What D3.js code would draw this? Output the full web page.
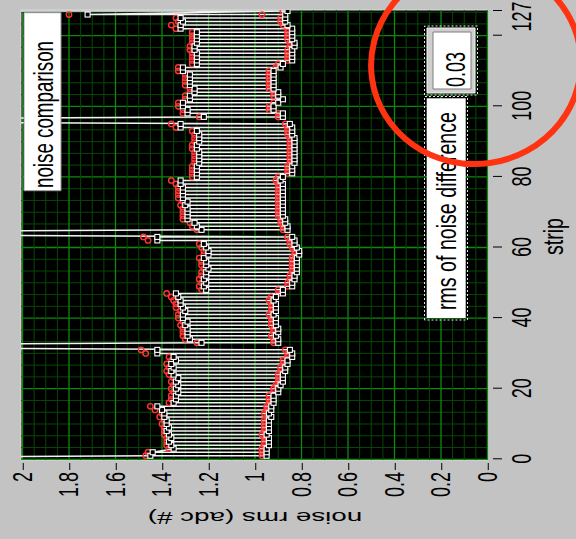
<!DOCTYPE html>
<html>
<head>
<meta charset="utf-8">
<script src="https://cdn.jsdelivr.net/npm/d3@7"></script>
<style>
  body { margin: 0; background: #c3c3c3; }
  svg { display: block; }
  text { font-family: "Liberation Sans", Arial, sans-serif; fill: #000; }
  .axis line, .grid line, .box { vector-effect: non-scaling-stroke; }
</style>
</head>
<body>
<div id="chart"></div>
<script>
// strip index 0..127, two noise values per strip (white = run A, red = run B)
const strips = d3.range(128)

// values of 4 are the dead / off-scale strips at the chip edges
const whiteHigh = [
  4.0, 1.45, 1.44, 1.35, 1.36, 1.37, 1.36, 1.37, 1.38, 1.37, 1.38, 1.38, 1.39, 1.39, 1.40, 1.42,
  1.35, 1.34, 1.34, 1.33, 1.34, 1.33, 1.34, 1.33, 1.35, 1.36, 1.35, 1.36, 1.34, 1.35, 1.42, 1.42,
  4.0, 1.23, 1.28, 1.29, 1.29, 1.29, 1.30, 1.29, 1.31, 1.31, 1.30, 1.31, 1.32, 1.32, 1.33, 1.34,
  1.21, 1.22, 1.21, 1.22, 1.21, 1.21, 1.20, 1.21, 1.21, 1.22, 1.20, 1.20, 1.21, 1.22, 1.42, 1.42,
  4.0, 1.23, 1.25, 1.26, 1.29, 1.29, 1.29, 1.29, 1.30, 1.29, 1.31, 1.31, 1.31, 1.31, 1.32, 1.32,
  1.25, 1.25, 1.25, 1.25, 1.24, 1.24, 1.24, 1.24, 1.25, 1.25, 1.24, 1.24, 1.24, 1.25, 1.32, 1.32,
  4.0, 1.22, 1.29, 1.29, 1.31, 1.31, 1.28, 1.28, 1.26, 1.26, 1.28, 1.28, 1.28, 1.28, 1.31, 1.31,
  1.25, 1.25, 1.25, 1.25, 1.26, 1.26, 1.25, 1.25, 1.25, 1.25, 1.32, 1.32, 1.31, 1.32, 1.72, 4.0
]
const whiteLow = [
  4.0, 0.95, 0.95, 0.95, 0.94, 0.94, 0.94, 0.95, 0.94, 0.94, 0.94, 0.94, 0.93, 0.94, 0.93, 0.93,
  0.92, 0.92, 0.92, 0.90, 0.90, 0.89, 0.88, 0.88, 0.88, 0.87, 0.87, 0.86, 0.86, 0.84, 0.84, 0.85,
  4.0, 0.90, 0.90, 0.91, 0.90, 0.90, 0.91, 0.91, 0.91, 0.92, 0.91, 0.91, 0.91, 0.92, 0.91, 0.88,
  0.88, 0.84, 0.84, 0.83, 0.83, 0.82, 0.82, 0.82, 0.82, 0.82, 0.81, 0.81, 0.82, 0.83, 0.83, 0.84,
  4.0, 0.86, 0.86, 0.87, 0.87, 0.88, 0.88, 0.88, 0.88, 0.88, 0.88, 0.88, 0.88, 0.88, 0.88, 0.89,
  0.88, 0.84, 0.84, 0.84, 0.83, 0.83, 0.83, 0.83, 0.83, 0.83, 0.83, 0.83, 0.84, 0.84, 0.84, 0.85,
  4.0, 0.88, 0.88, 0.92, 0.92, 0.90, 0.88, 0.90, 0.90, 0.92, 0.92, 0.92, 0.92, 0.92, 0.92, 0.89,
  0.88, 0.84, 0.84, 0.84, 0.84, 0.83, 0.83, 0.84, 0.84, 0.84, 0.84, 0.86, 0.87, 0.87, 0.87, 0.86
]
const redHigh = [
  4.0, 1.47, 1.46, 1.37, 1.38, 1.38, 1.38, 1.39, 1.39, 1.39, 1.40, 1.39, 1.41, 1.40, 1.43, 1.45,
  1.37, 1.36, 1.36, 1.35, 1.36, 1.35, 1.36, 1.35, 1.37, 1.38, 1.37, 1.38, 1.36, 1.37, 1.47, 1.49,
  4.0, 1.25, 1.30, 1.31, 1.31, 1.31, 1.32, 1.31, 1.33, 1.33, 1.32, 1.34, 1.34, 1.35, 1.36, 1.38,
  1.23, 1.24, 1.23, 1.24, 1.23, 1.23, 1.22, 1.23, 1.23, 1.24, 1.22, 1.22, 1.23, 1.24, 1.46, 1.48,
  4.0, 1.25, 1.27, 1.28, 1.31, 1.31, 1.31, 1.31, 1.32, 1.31, 1.33, 1.33, 1.33, 1.33, 1.34, 1.36,
  1.27, 1.27, 1.27, 1.27, 1.26, 1.26, 1.26, 1.26, 1.27, 1.27, 1.26, 1.26, 1.26, 1.27, 1.34, 1.36,
  4.0, 1.24, 1.31, 1.31, 1.33, 1.33, 1.30, 1.30, 1.28, 1.28, 1.30, 1.30, 1.30, 1.30, 1.33, 1.33,
  1.27, 1.27, 1.27, 1.27, 1.28, 1.28, 1.27, 1.27, 1.27, 1.27, 1.34, 1.36, 1.33, 1.34, 1.80, 4.0
]
const redLow = [
  4.0, 0.97, 0.97, 0.97, 0.96, 0.96, 0.96, 0.97, 0.96, 0.96, 0.96, 0.96, 0.95, 0.96, 0.95, 0.95,
  0.94, 0.94, 0.94, 0.92, 0.92, 0.91, 0.90, 0.90, 0.90, 0.89, 0.89, 0.88, 0.88, 0.86, 0.86, 0.87,
  4.0, 0.92, 0.92, 0.93, 0.92, 0.92, 0.93, 0.93, 0.93, 0.94, 0.93, 0.93, 0.93, 0.94, 0.93, 0.90,
  0.90, 0.86, 0.86, 0.85, 0.85, 0.84, 0.84, 0.84, 0.84, 0.84, 0.83, 0.83, 0.84, 0.85, 0.85, 0.86,
  4.0, 0.88, 0.88, 0.89, 0.89, 0.90, 0.90, 0.90, 0.90, 0.90, 0.90, 0.90, 0.90, 0.90, 0.90, 0.91,
  0.90, 0.86, 0.86, 0.86, 0.85, 0.85, 0.85, 0.85, 0.85, 0.85, 0.85, 0.85, 0.86, 0.86, 0.86, 0.87,
  4.0, 0.90, 0.90, 0.94, 0.94, 0.92, 0.90, 0.92, 0.92, 0.94, 0.94, 0.94, 0.94, 0.94, 0.94, 0.91,
  0.90, 0.86, 0.86, 0.86, 0.86, 0.85, 0.85, 0.86, 0.86, 0.86, 0.86, 0.88, 0.89, 0.89, 0.97, 0.88
]

const stripTicks = [0, 20, 40, 60, 80, 100, 120, 127]
const stripLabels = ['0', '20', '40', '60', '80', '100', '', '127']
const rmsTicks = [2, 1.8, 1.6, 1.4, 1.2, 1, 0.8, 0.6, 0.4, 0.2, 0]
const rmsLabels = ['2', '1.8', '1.6', '1.4', '1.2', '1', '0.8', '0.6', '0.4', '0.2', '0']
const rmsDiff = '0.03'

const W = 576
const H = 539
const S = 1.5 // the screenshot is stretched along the noise axis

const svg = d3.select('#chart').append('svg')
  .attr('width', W)
  .attr('height', H)

svg.append('rect').attr('width', W).attr('height', H).attr('fill', '#c3c3c3')

// the picture is the chart turned a quarter turn: strip runs upwards, noise runs right to left
const plot = { left: 21, right: 488, top: 10, bottom: 460 }
const stripY = d3.scaleLinear([0, 127], [459.3, 11])
const rmsX = d3.scaleLinear([0, 2], [487.5, 22.5])

svg.append('rect')
  .attr('x', plot.left).attr('y', plot.top)
  .attr('width', plot.right - plot.left).attr('height', plot.bottom - plot.top)
  .attr('fill', '#000')
  .attr('stroke', '#dcdcdc')

// grid
const grid = svg.append('g').attr('class', 'grid')
const stripMinor = d3.range(0, 39).map(k => k * 20 / 6)
const rmsMinor = d3.range(0, 41).map(k => k * 0.05)

grid.selectAll('line.hs')
  .data(stripMinor)
  .enter().append('line')
  .attr('x1', plot.left).attr('x2', plot.right)
  .attr('y1', d => stripY(d)).attr('y2', d => stripY(d))
  .attr('stroke', (d, i) => i % 6 === 0 ? '#0b8a0b' : '#064806')
  .attr('stroke-width', (d, i) => i % 6 === 0 ? 1.3 : 1)

grid.selectAll('line.vs')
  .data(rmsMinor)
  .enter().append('line')
  .attr('y1', plot.top).attr('y2', plot.bottom)
  .attr('x1', d => rmsX(d)).attr('x2', d => rmsX(d))
  .attr('stroke', (d, i) => i % 4 === 0 ? '#0b8a0b' : '#064806')
  .attr('stroke-width', (d, i) => i % 4 === 0 ? 1.3 : 1)

svg.append('defs').append('clipPath')
  .attr('id', 'clip')
  .append('rect')
  .attr('x', plot.left).attr('y', plot.top)
  .attr('width', plot.right - plot.left).attr('height', plot.bottom - plot.top)

// each strip gives two points; the trace starts each strip at the value nearest the previous one
function serpentine (high, low) {
  const pts = []
  let prev = null
  strips.forEach((s, i) => {
    const pair = [high[i], low[i]]
    if (prev != null && Math.abs(pair[1] - prev) < Math.abs(pair[0] - prev)) pair.reverse()
    pts.push([s, pair[0]], [s, pair[1]])
    prev = pair[1]
  })
  return pts
}

const redPts = serpentine(redHigh, redLow)
const whitePts = serpentine(whiteHigh, whiteLow)

const line = d3.line()
  .x(d => rmsX(d[1]))
  .y(d => stripY(d[0]))

const data = svg.append('g').attr('clip-path', 'url(#clip)')

data.append('path')
  .datum(whitePts)
  .attr('fill', 'none')
  .attr('stroke', '#f2f2f2')
  .attr('stroke-width', 1.5)
  .attr('d', line)

data.selectAll('circle')
  .data(redPts)
  .enter().append('circle')
  .attr('cx', d => rmsX(d[1]))
  .attr('cy', d => stripY(d[0]))
  .attr('r', 2.7)
  .attr('fill', 'none')
  .attr('stroke', '#ff3434')
  .attr('stroke-width', 1.4)

data.selectAll('rect.pt')
  .data(whitePts)
  .enter().append('rect')
  .attr('class', 'pt')
  .attr('x', d => rmsX(d[1]) - 2.5)
  .attr('y', d => stripY(d[0]) - 2.5)
  .attr('width', 5).attr('height', 5)
  .attr('fill', '#000')
  .attr('stroke', '#fff')
  .attr('stroke-width', 1.1)

// axes, titles and labels are drawn upright and then turned with the rest of the chart
const g = svg.append('g')
  .attr('transform', `translate(0,${H}) rotate(-90) scale(1,${S})`)

const stripIn = d3.scaleLinear([0, 127], stripY.range().map(v => H - v))
const rmsIn = d3.scaleLinear([0, 2], rmsX.range().map(v => v / S))

g.append('g')
  .attr('class', 'axis')
  .attr('transform', `translate(0,${493 / S})`)
  .call(d3.axisBottom(stripIn)
    .tickValues(stripTicks)
    .tickFormat((d, i) => stripLabels[i])
    .tickSize(9 / S)
    .tickPadding(6.6))

g.append('g')
  .attr('class', 'axis')
  .attr('transform', `translate(${H - 463},0)`)
  .call(d3.axisLeft(rmsIn)
    .tickValues(rmsTicks)
    .tickFormat((d, i) => rmsLabels[i])
    .tickSize(7)
    .tickPadding(2))

g.selectAll('.axis .domain').remove()
g.selectAll('.axis line').attr('stroke', '#000')
g.selectAll('.axis text')
  .attr('font-size', 18)
  .attr('font-family', '"Liberation Sans", Arial, sans-serif')
  .attr('fill', '#000')
  .filter(d => d === 127)
  .attr('dx', -6)

g.append('text')
  .attr('x', H - 236.5)
  .attr('y', 563 / S)
  .attr('text-anchor', 'middle')
  .attr('font-size', 19)
  .attr('textLength', 37)
  .attr('lengthAdjust', 'spacingAndGlyphs')
  .text('strip')

g.append('text')
  .attr('transform', `translate(${H - 512},${255 / S}) rotate(-90)`)
  .attr('text-anchor', 'middle')
  .attr('font-size', 17)
  .attr('textLength', 143)
  .attr('lengthAdjust', 'spacingAndGlyphs')
  .text('noise rms (adc #)')

// plot legend
g.append('rect')
  .attr('class', 'box')
  .attr('x', H - 190.7).attr('y', 24 / S)
  .attr('width', 178).attr('height', 37 / S)
  .attr('fill', '#fff')
  .attr('stroke', '#9a9a9a')
g.append('text')
  .attr('x', H - 188).attr('y', 53 / S)
  .attr('font-size', 18)
  .attr('textLength', 147)
  .attr('lengthAdjust', 'spacingAndGlyphs')
  .text('noise comparison')

// rms of noise difference label and indicator
g.append('rect')
  .attr('class', 'box')
  .attr('x', H - 320).attr('y', 424.5 / S)
  .attr('width', 223.5).attr('height', 43 / S)
  .attr('fill', 'none')
  .attr('stroke', '#e6e6e6')
  .attr('stroke-dasharray', '2 2')
g.append('rect')
  .attr('class', 'box')
  .attr('x', H - 318).attr('y', 426.7 / S)
  .attr('width', 219.7).attr('height', 39 / S)
  .attr('fill', '#fff')
g.append('text')
  .attr('x', H - 310).attr('y', 456 / S)
  .attr('font-size', 18)
  .attr('textLength', 198)
  .attr('lengthAdjust', 'spacingAndGlyphs')
  .text('rms of noise difference')

g.append('rect')
  .attr('class', 'box')
  .attr('x', H - 95).attr('y', 424.5 / S)
  .attr('width', 69).attr('height', 53 / S)
  .attr('fill', 'none')
  .attr('stroke', '#e6e6e6')
  .attr('stroke-dasharray', '2 2')
g.append('rect')
  .attr('class', 'box')
  .attr('x', H - 93).attr('y', 427 / S)
  .attr('width', 65).attr('height', 48 / S)
  .attr('fill', '#cfcfcf')
  .attr('stroke', '#f4f4f4')
g.append('rect')
  .attr('class', 'box')
  .attr('x', H - 89).attr('y', 433 / S)
  .attr('width', 57).attr('height', 38 / S)
  .attr('fill', '#fff')
  .attr('stroke', '#7c7c7c')
g.append('text')
  .attr('x', H - 87).attr('y', 465 / S)
  .attr('font-size', 18)
  .text(rmsDiff)

// red hand-drawn highlight around the indicator
svg.append('ellipse')
  .attr('cx', 476).attr('cy', 64)
  .attr('rx', 105).attr('ry', 100)
  .attr('transform', 'rotate(-8 476 64)')
  .attr('fill', 'none')
  .attr('stroke', '#ff3312')
  .attr('stroke-width', 6)
</script>
</body>
</html>
